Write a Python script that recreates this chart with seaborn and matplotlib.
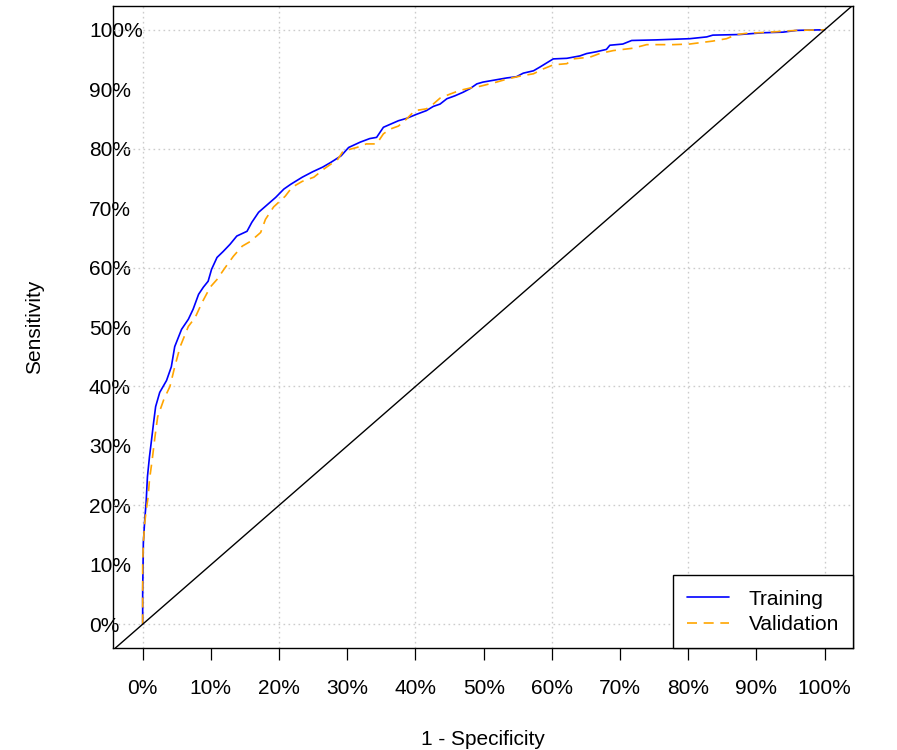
import pandas as pd
import matplotlib
matplotlib.use("Agg")
import matplotlib.pyplot as plt
import seaborn as sns

# puntos de la curva ROC (1 - especificidad, sensibilidad)
train_fpr = [0.000, 0.000, 0.001, 0.003, 0.005, 0.007, 0.010, 0.013, 0.016, 0.019,
             0.025, 0.035, 0.042, 0.047, 0.057, 0.067, 0.074, 0.082, 0.089, 0.096,
             0.101, 0.109, 0.118, 0.128, 0.138, 0.153, 0.160, 0.170, 0.180, 0.195,
             0.207, 0.217, 0.234, 0.249, 0.264, 0.276, 0.291, 0.302, 0.319, 0.333,
             0.343, 0.353, 0.363, 0.375, 0.387, 0.402, 0.416, 0.426, 0.436, 0.446,
             0.458, 0.470, 0.480, 0.490, 0.499, 0.514, 0.534, 0.548, 0.558, 0.573,
             0.582, 0.592, 0.602, 0.622, 0.641, 0.651, 0.665, 0.680, 0.685, 0.704,
             0.717, 0.753, 0.802, 0.827, 0.836, 0.875, 0.910, 0.939, 0.959, 1.000]
train_tpr = [0.000, 0.052, 0.137, 0.175, 0.204, 0.248, 0.282, 0.310, 0.339, 0.366,
             0.390, 0.410, 0.433, 0.467, 0.496, 0.513, 0.530, 0.555, 0.567, 0.577,
             0.597, 0.617, 0.627, 0.639, 0.653, 0.661, 0.676, 0.693, 0.703, 0.718,
             0.732, 0.740, 0.752, 0.761, 0.769, 0.777, 0.788, 0.802, 0.811, 0.817,
             0.819, 0.836, 0.841, 0.847, 0.851, 0.858, 0.864, 0.871, 0.875, 0.884,
             0.889, 0.895, 0.901, 0.909, 0.912, 0.915, 0.919, 0.921, 0.927, 0.931,
             0.937, 0.944, 0.951, 0.952, 0.956, 0.960, 0.963, 0.967, 0.974, 0.976,
             0.982, 0.983, 0.985, 0.988, 0.991, 0.992, 0.995, 0.996, 0.999, 1.000]

valid_fpr = [0.000, 0.000, 0.001, 0.003, 0.005, 0.008, 0.010, 0.014, 0.018, 0.022,
             0.031, 0.040, 0.047, 0.055, 0.067, 0.077, 0.087, 0.099, 0.109, 0.121,
             0.133, 0.146, 0.158, 0.173, 0.180, 0.192, 0.209, 0.219, 0.234, 0.251,
             0.266, 0.286, 0.294, 0.314, 0.328, 0.343, 0.353, 0.363, 0.375, 0.387,
             0.399, 0.416, 0.426, 0.436, 0.451, 0.465, 0.480, 0.495, 0.519, 0.534,
             0.553, 0.573, 0.587, 0.602, 0.622, 0.631, 0.656, 0.670, 0.690, 0.719,
             0.739, 0.778, 0.802, 0.836, 0.856, 0.871, 0.885, 0.919, 0.959, 1.000]
valid_tpr = [0.000, 0.100, 0.137, 0.170, 0.190, 0.214, 0.243, 0.277, 0.315, 0.349,
             0.378, 0.400, 0.433, 0.467, 0.501, 0.516, 0.541, 0.567, 0.580, 0.600,
             0.619, 0.636, 0.644, 0.659, 0.681, 0.702, 0.720, 0.735, 0.745, 0.752,
             0.766, 0.782, 0.796, 0.802, 0.808, 0.808, 0.825, 0.833, 0.838, 0.850,
             0.864, 0.867, 0.875, 0.885, 0.892, 0.898, 0.902, 0.905, 0.912, 0.917,
             0.922, 0.926, 0.934, 0.941, 0.943, 0.951, 0.954, 0.960, 0.965, 0.969,
             0.975, 0.975, 0.976, 0.981, 0.985, 0.992, 0.994, 0.996, 0.999, 1.000]

tick_pos = [i / 10 for i in range(11)]
tick_labels = [f"{i * 10}%" for i in range(11)]
grid_pos = [i / 5 for i in range(6)]

# tabla larga para seaborn
df = pd.concat([
    pd.DataFrame({"fpr": train_fpr, "tpr": train_tpr, "set": "Training"}),
    pd.DataFrame({"fpr": valid_fpr, "tpr": valid_tpr, "set": "Validation"}),
])

sns.set_theme(style="white")
plt.rcParams["font.family"] = ["Liberation Sans", "DejaVu Sans"]
# texto negro como en el original
for k in ["text.color", "axes.labelcolor", "xtick.color", "ytick.color"]:
    plt.rcParams[k] = "black"
fs = 15

fig = plt.figure(figsize=(8.97, 7.5), dpi=100)
ax = fig.add_axes([113 / 897, 102 / 750, 740 / 897, 642 / 750])

sns.lineplot(data=df, x="fpr", y="tpr", hue="set", style="set",
             palette={"Training": "#0000FF", "Validation": "#FFA500"},
             dashes={"Training": "", "Validation": (6, 4)},
             sort=False, estimator=None, linewidth=1.2, ax=ax, zorder=3)

# diagonal de referencia
ax.axline((0, 0), (1, 1), color="black", linewidth=1.0, zorder=4)

ax.set_xlim(-0.0435, 1.0415)
ax.set_ylim(-0.04, 1.04)

ax.set_xticks(tick_pos)
ax.set_xticklabels(tick_labels, fontsize=fs)
ax.set_yticks(tick_pos)
ax.set_yticklabels(tick_labels, fontsize=fs, ha="left")
# rejilla cada 20% (ticks menores que coinciden con los mayores)
ax.xaxis.remove_overlapping_locs = False
ax.yaxis.remove_overlapping_locs = False
ax.set_xticks(grid_pos, minor=True)
ax.set_yticks(grid_pos, minor=True)

ax.tick_params(axis="x", which="major", direction="out", length=8.6, width=0.9,
               color="black", pad=14, bottom=True)
ax.tick_params(axis="y", which="major", length=0, pad=17.3)
ax.tick_params(which="minor", length=0)
ax.grid(which="major", visible=False)
ax.grid(which="minor", visible=True, color="#cccccc",
        linestyle=(0, (1.2, 2.4)), linewidth=1.0)
ax.set_axisbelow(True)

for sp in ax.spines.values():
    sp.set_color("black")
    sp.set_linewidth(1.0)

ax.set_xlabel("1 - Specificity", fontsize=fs)
ax.set_ylabel("Sensitivity", fontsize=fs)
ax.xaxis.set_label_coords(0.5, -0.128)
ax.yaxis.set_label_coords(-0.093, 0.5)

leg = ax.legend(loc="lower right", borderaxespad=0, fontsize=fs, title=None,
                frameon=True, fancybox=False, framealpha=1, edgecolor="black",
                handlelength=2.0, handletextpad=0.95, borderpad=0.68,
                labelspacing=0.3)
leg.get_frame().set_linewidth(1.0)

fig.savefig("out.png", dpi=100)
